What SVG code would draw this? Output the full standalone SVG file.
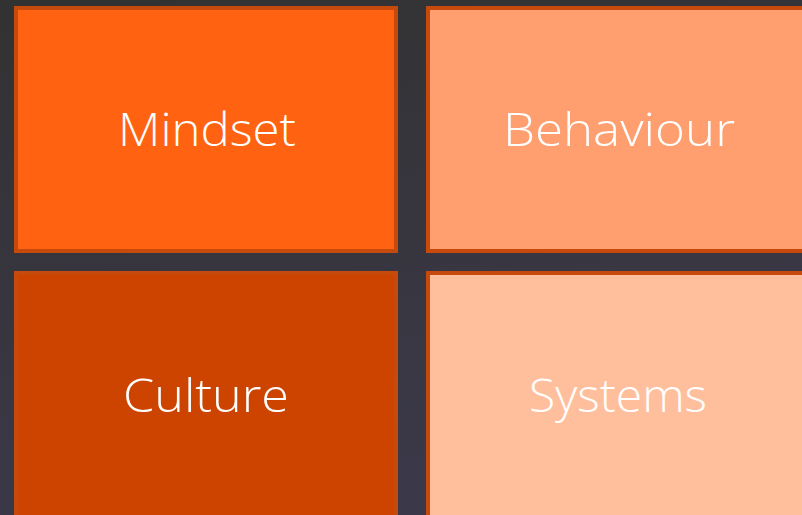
<svg xmlns="http://www.w3.org/2000/svg" width="802" height="515" viewBox="0 0 802 515">
<defs>
<linearGradient id="bg" x1="0" y1="0" x2="0.3" y2="1">
<stop offset="0" stop-color="#323232"/>
<stop offset="1" stop-color="#3b3949"/>
</linearGradient>
</defs>
<style>
.box{stroke:#c64a0c;stroke-width:4}
.lbl{font-family:"Open Sans","Liberation Sans",sans-serif;font-weight:300;font-size:46px;fill:#ffffff;text-anchor:middle}
</style>
<rect x="0" y="0" width="802" height="515" fill="url(#bg)"/>
<g id="mindset">
<rect class="box" x="16" y="8" width="380" height="243" fill="#ff6210"/>
<text class="lbl" x="207" y="146" textLength="178" lengthAdjust="spacingAndGlyphs">Mindset</text>
</g>
<g id="behaviour">
<rect class="box" x="428" y="8" width="384" height="243" fill="#ff9e6e"/>
<text class="lbl" x="619" y="146" textLength="232" lengthAdjust="spacingAndGlyphs">Behaviour</text>
</g>
<g id="culture">
<rect class="box" x="16" y="273" width="380" height="250" fill="#cc4400" stroke="#c84503"/>
<text class="lbl" x="206" y="412" textLength="166" lengthAdjust="spacingAndGlyphs">Culture</text>
</g>
<g id="systems">
<rect class="box" x="428" y="273" width="384" height="250" fill="#ffbf9d"/>
<text class="lbl" x="618" y="412" textLength="178" lengthAdjust="spacingAndGlyphs">Systems</text>
</g>
<g id="connectors"/>
</svg>
